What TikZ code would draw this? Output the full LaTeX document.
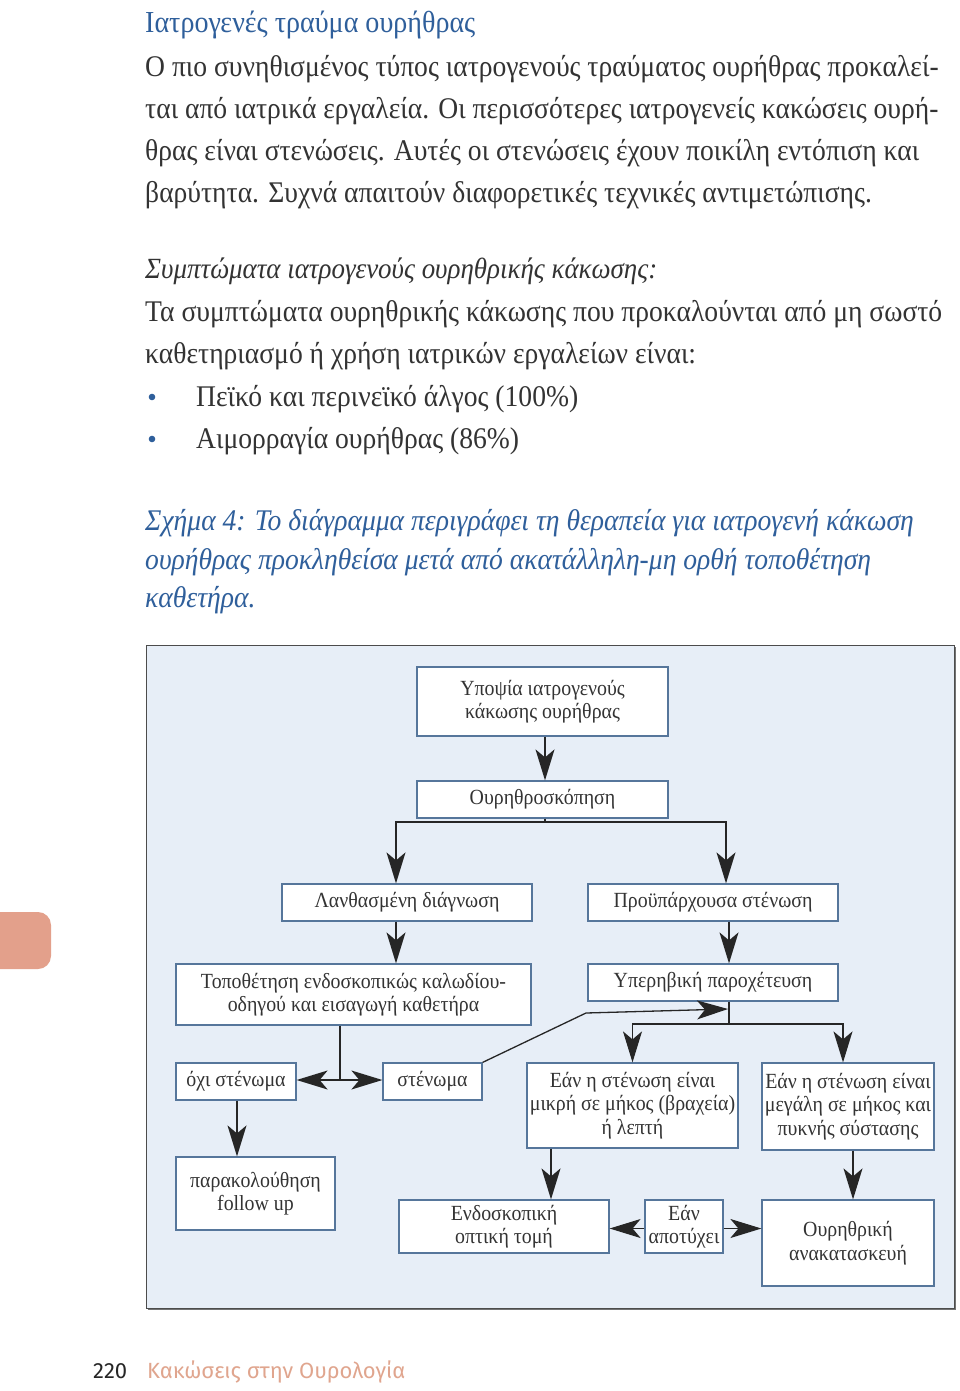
\documentclass[tikz,border=0pt]{standalone}
\usepackage{fontspec}
\setmainfont{Liberation Serif}[FakeStretch=0.92]
\newfontfamily\footfont{Fira Sans}
\usetikzlibrary{arrows.meta}
\definecolor{titleblue}{HTML}{2F5F9B}
\definecolor{bodygray}{HTML}{333333}
\definecolor{framefill}{HTML}{E7EEF7}
\definecolor{boxline}{HTML}{56769B}
\definecolor{salmon}{HTML}{E3A08B}
\definecolor{foottext}{HTML}{E0A58E}
\begin{document}
\begin{tikzpicture}[x=1pt,y=-1pt,
  bodytext/.style={anchor=base west,inner sep=0pt,text=bodygray,font=\fontsize{30}{30}\selectfont},
  captext/.style={anchor=base west,inner sep=0pt,text=titleblue,font=\fontsize{30}{30}\selectfont\itshape},
  box/.style={draw=boxline,line width=1.2pt,fill=white,align=center,inner sep=1pt,text=bodygray,
    font=\fontsize{21.6}{23.5}\selectfont},
  conn/.style={draw=black!85,line width=1.3pt},
  arr/.style={conn,-{Stealth[length=31pt,width=19pt,inset=8pt]}}]
\useasboundingbox (0,0) rectangle (960,1391);
\fill[white] (0,0) rectangle (960,1391);
% side tab
\fill[salmon,rounded corners=13pt] (-20,912) rectangle (51,969);
% header & body
\node[anchor=base west,inner sep=0pt,text=titleblue,font=\fontsize{30.5}{30}\selectfont] (title) at (145,33) {Ιατρογενές τραύμα ουρήθρας};
\node[bodytext] (p1) at (145,77) {Ο πιο συνηθισμένος τύπος ιατρογενούς τραύματος ουρήθρας προκαλεί-};
\node[bodytext] (p2) at (145,119) {ται από ιατρικά εργαλεία. Οι περισσότερες ιατρογενείς κακώσεις ουρή-};
\node[bodytext] (p3) at (145,161) {θρας είναι στενώσεις. Αυτές οι στενώσεις έχουν ποικίλη εντόπιση και};
\node[bodytext] (p4) at (145,203) {βαρύτητα. Συχνά απαιτούν διαφορετικές τεχνικές αντιμετώπισης.};
\node[bodytext,font=\fontsize{29.3}{30}\selectfont\itshape] (s0) at (145,278) {Συμπτώματα ιατρογενούς ουρηθρικής κάκωσης:};
\node[bodytext] (s1) at (145,321) {Τα συμπτώματα ουρηθρικής κάκωσης που προκαλούνται από μη σωστό};
\node[bodytext] (s2) at (145,363) {καθετηριασμό ή χρήση ιατρικών εργαλείων είναι:};
\fill[titleblue] (152,397) circle (3.3pt);
\fill[titleblue] (152,439) circle (3.3pt);
\node[bodytext] (b1t) at (196,406) {Πεϊκό και περινεϊκό άλγος (100\%)};
\node[bodytext] (b2t) at (196,448) {Αιμορραγία ουρήθρας (86\%)};
\node[captext] (c1) at (145,530) {Σχήμα 4: Το διάγραμμα περιγράφει τη θεραπεία για ιατρογενή κάκωση};
\node[captext] (c2) at (145,569) {ουρήθρας προκληθείσα μετά από ακατάλληλη-μη ορθή τοποθέτηση};
\node[captext] (c3) at (145,607) {καθετήρα.};
% frame
\fill[black!55] (148,647) rectangle (956,1310);
\filldraw[fill=framefill,draw=black!70,line width=1pt] (146,645) rectangle (954,1308);
% boxes
\node[box,minimum width=251pt,minimum height=69pt] (b1) at (542.5,701.5) {Υποψία ιατρογενούς\\κάκωσης ουρήθρας};
\node[box,minimum width=251pt,minimum height=37pt] (b2) at (542.5,799.5) {Ουρηθροσκόπηση};
\node[box,minimum width=250pt,minimum height=37pt] (b3) at (407,902.5) {Λανθασμένη διάγνωση};
\node[box,minimum width=250pt,minimum height=37pt] (b4) at (713,902.5) {Προϋπάρχουσα στένωση};
\node[box,minimum width=355pt,minimum height=61pt] (b5) at (353.5,994.5) {Τοποθέτηση ενδοσκοπικώς καλωδίου-\\οδηγού και εισαγωγή καθετήρα};
\node[box,minimum width=250pt,minimum height=37pt] (b6) at (713,982.5) {Υπερηβική παροχέτευση};
\node[box,minimum width=120pt,minimum height=37pt] (b7) at (236,1081.5) {όχι στένωμα};
\node[box,minimum width=99pt,minimum height=37pt] (b8) at (432.5,1081.5) {στένωμα};
\node[box,minimum width=211pt,minimum height=85pt] (b9) at (632.5,1105.5) {Εάν η στένωση είναι\\μικρή σε μήκος (βραχεία)\\ή λεπτή};
\node[box,minimum width=172pt,minimum height=87pt] (b10) at (848,1106.5) {Εάν η στένωση είναι\\μεγάλη σε μήκος και\\πυκνής σύστασης};
\node[box,minimum width=159pt,minimum height=73pt] (b11) at (255.5,1193.5) {παρακολούθηση\\follow up};
\node[box,minimum width=210pt,minimum height=53pt] (b12) at (504,1226.5) {Ενδοσκοπική\\οπτική τομή};
\node[box,minimum width=78pt,minimum height=53pt] (b13) at (684,1226.5) {Εάν\\αποτύχει};
\node[box,minimum width=172pt,minimum height=86pt] (b14) at (848,1243) {Ουρηθρική\\ανακατασκευή};
% connectors
\coordinate (j1) at (545,822);
\coordinate (j2) at (729,1024);
\coordinate (j4) at (340,1080);
\coordinate (k1) at (586,1013);
\coordinate (k2) at (728,1009);
\draw[arr] ([xshift=2.5pt]b1.south) -- ([xshift=2.5pt]b2.north);
\draw[conn] (b2.south -| j1) -- (j1);
\draw[arr] (j1) -| ([xshift=-11pt]b3.north);
\draw[arr] (j1) -| ([xshift=13pt]b4.north);
\draw[arr] ([xshift=-11pt]b3.south) -- ([xshift=-11pt]b3.south |- b5.north);
\draw[arr] ([xshift=16pt]b4.south) -- ([xshift=16pt]b4.south |- b6.north);
\draw[conn] (b6.south -| j2) -- (j2);
\draw[arr] (j2) -| (b9.north);
\draw[arr] (j2) -| ([xshift=-5pt]b10.north);
\draw[arr] (b8.north east) -- (k1) -- (k2);
\draw[conn] (b5.south -| j4) -- (j4);
\draw[arr] (j4) -- (j4 -| b7.east);
\draw[arr] (j4) -- (j4 -| b8.west);
\draw[arr] ([xshift=1pt]b7.south) -- ([xshift=1pt]b7.south |- b11.north);
\draw[arr] ([xshift=-81.5pt]b9.south) -- ([xshift=-81.5pt]b9.south |- b12.north);
\draw[arr] ([xshift=5pt]b10.south) -- ([xshift=5pt]b10.south |- b14.north);
\draw[arr] ([yshift=-2pt]b13.west) -- ([yshift=-2pt]b13.west -| b12.east);
\draw[arr] ([yshift=-2pt]b13.east) -- ([yshift=-2pt]b13.east -| b14.west);
% footer
\node[anchor=base west,inner sep=0pt,font=\footfont\fontsize{22}{22}\selectfont,text=black!85] (pg) at (93,1378) {220};
\node[anchor=base west,inner sep=0pt,font=\footfont\fontsize{22}{22}\selectfont,text=foottext] (ft) at (147,1378) {Κακώσεις στην Ουρολογία};
\end{tikzpicture}
\end{document}
